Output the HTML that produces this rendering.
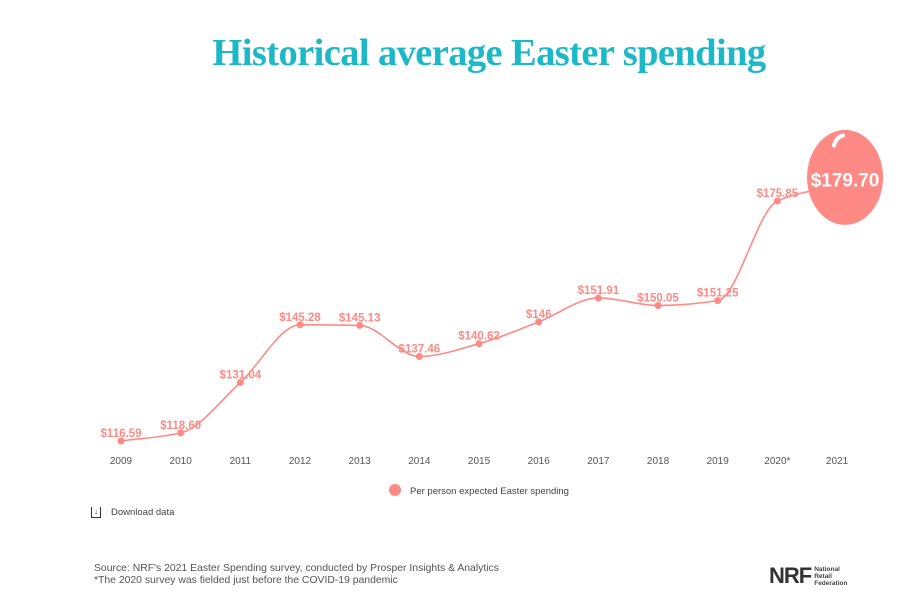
<!DOCTYPE html>
<html><head><meta charset="utf-8"><style>
body{margin:0;width:908px;height:603px;background:#fff;font-family:"Liberation Sans",sans-serif;overflow:hidden;position:relative}
.title{position:absolute;left:0;width:978px;top:31px;text-align:center;font-family:"Liberation Serif",serif;font-weight:bold;font-size:38.5px;color:#1bb8c8;letter-spacing:-0.6px}
</style></head><body>
<div class="title">Historical average Easter spending</div>
<svg id="chart" width="908" height="603" style="position:absolute;left:0;top:0"></svg>
<script>
const years=["2009","2010","2011","2012","2013","2014","2015","2016","2017","2018","2019","2020*","2021"];
const values=[116.59,118.60,131.04,145.28,145.13,137.46,140.62,146,151.91,150.05,151.25,175.85,179.70];
const labels=["$116.59","$118.60","$131.04","$145.28","$145.13","$137.46","$140.62","$146","$151.91","$150.05","$151.25","$175.85","$179.70"];
const svg=document.getElementById('chart');
const NS='http://www.w3.org/2000/svg';
const xs=i=>121+i*59.67;
const ys=v=>441-(v-116.59)*4.05;
const col='#ff8a85';
function mk(t,a,txt){const e=document.createElementNS(NS,t);for(const k in a)e.setAttribute(k,a[k]);if(txt!==undefined)e.textContent=txt;svg.appendChild(e);return e;}
const P=values.map((v,i)=>[xs(i),ys(v)]);
const n=P.length,d=[],m=[];
for(let i=0;i<n-1;i++)d.push((P[i+1][1]-P[i][1])/(P[i+1][0]-P[i][0]));
m[0]=d[0];m[n-1]=d[n-2];
for(let i=1;i<n-1;i++)m[i]=(d[i-1]*d[i]<=0)?0:(2/(1/d[i-1]+1/d[i]));
let p='M'+P[0][0]+','+P[0][1];
for(let i=0;i<n-1;i++){const h=(P[i+1][0]-P[i][0])/3;p+=` C${P[i][0]+h},${P[i][1]+m[i]*h} ${P[i+1][0]-h},${P[i+1][1]-m[i+1]*h} ${P[i+1][0]},${P[i+1][1]}`;}
const line=mk('path',{d:p,fill:'none',stroke:col,'stroke-width':1.6});


years.forEach((y,i)=>{
  const t=mk('text',{x:xs(i),y:464,'text-anchor':'middle','font-size':10,fill:'#555'},y);
  
  
  if(i<n-1){
    const c=mk('circle',{cx:xs(i),cy:ys(values[i]),r:3.5,fill:col});
    
    
    const l=mk('text',{x:xs(i),y:ys(values[i])-4,'text-anchor':'middle','font-size':11.5,'font-weight':'bold',fill:col},labels[i]);
    
    
  }
});
const last=n-1;
const egg=mk('ellipse',{cx:xs(last)+8,cy:ys(values[last])-8,rx:38,ry:47.5,fill:col});


const sh=mk('path',{d:`M${xs(last)-3},${ys(values[last])-40} q2,-8 9,-10`,fill:'none',stroke:'#fff','stroke-width':4,'stroke-linecap':'round'});


const el=mk('text',{x:xs(last)+8,y:ys(values[last])+1,'text-anchor':'middle','font-size':19,'font-weight':'bold',fill:'#fff'},labels[last]);


const lc=mk('circle',{cx:395,cy:490,r:6,fill:col});


const lt=mk('text',{x:410,y:494,'font-size':9.5,fill:'#444'},'Per person expected Easter spending');


</script>
<div style="position:absolute;left:91px;top:507px;font-size:9.5px;color:#444;display:flex;align-items:center">
<span style="display:inline-block;width:8px;height:10px;border:1.5px solid #333;border-top:none;font-size:8px;line-height:10px;text-align:center;margin-right:10px;font-weight:bold">↓</span>Download data</div>
<div style="position:absolute;left:94px;top:563px;font-size:10.4px;color:#555;line-height:12px">Source: NRF's 2021 Easter Spending survey, conducted by Prosper Insights &amp; Analytics<br>*The 2020 survey was fielded just before the COVID-19 pandemic</div>
<div style="position:absolute;left:769px;top:563px;display:flex;align-items:center">
<span style="font-size:22px;font-weight:bold;color:#333;letter-spacing:-1px">NRF</span>
<span style="font-size:6.5px;font-weight:bold;color:#444;line-height:7px;margin-left:3px">National<br>Retail<br>Federation</span></div>
</body></html>
